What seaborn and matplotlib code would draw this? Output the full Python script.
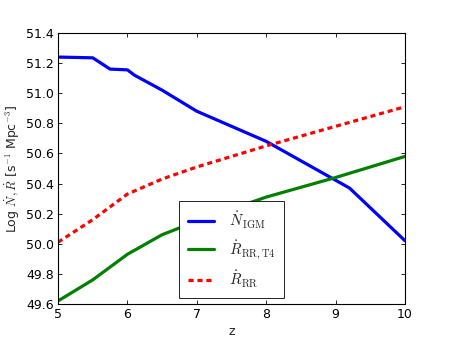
import matplotlib
matplotlib.use("Agg")
import matplotlib.pyplot as plt
import pandas as pd
import seaborn as sns

# N_IGM (blue)
z_igm = [5.0, 5.5, 5.75, 6.0, 6.1, 6.5, 7.0, 8.0, 9.2, 10.0]
n_igm = [51.24, 51.235, 51.16, 51.155, 51.12, 51.02, 50.88, 50.68, 50.37, 50.02]

# R_RR,T4 (green)
z_t4 = [5.0, 5.5, 6.0, 6.5, 7.0, 8.0, 9.0, 10.0]
r_t4 = [49.62, 49.76, 49.93, 50.06, 50.15, 50.31, 50.44, 50.58]

# R_RR (red dotted)
z_rr = [5.0, 5.5, 6.0, 6.5, 7.0, 8.0, 9.0, 10.0]
r_rr = [50.01, 50.16, 50.33, 50.43, 50.51, 50.65, 50.78, 50.91]

labels = [r"$\dot N_{\rm IGM}$", r"$\dot R_{\rm RR,T4}$", r"$\dot R_{\rm RR}$"]

df = pd.concat([
    pd.DataFrame({"z": z_igm, "val": n_igm, "series": labels[0]}),
    pd.DataFrame({"z": z_t4, "val": r_t4, "series": labels[1]}),
    pd.DataFrame({"z": z_rr, "val": r_rr, "series": labels[2]}),
])

sns.set_theme(style="ticks", rc={"xtick.direction": "in", "ytick.direction": "in"})
plt.rcParams["font.family"] = ["DejaVu Sans"]
plt.rcParams["mathtext.fontset"] = "cm"
plt.rcParams["axes.edgecolor"] = "black"
plt.rcParams["axes.linewidth"] = 0.8

fig = plt.figure(figsize=(4.5, 3.4), dpi=100)
ax = fig.add_axes([0.129, 0.106, 0.771, 0.797])

sns.lineplot(
    data=df, x="z", y="val", hue="series", style="series",
    palette=["#0000ff", "#008000", "#ff0000"],
    dashes=[(None, None), (None, None), (1.6, 1.2)],
    linewidth=2.3, sort=False, estimator=None, ax=ax,
)

ax.set_xlim(5, 10)
ax.set_ylim(49.6, 51.4)
ax.set_xticks([5, 6, 7, 8, 9, 10])
ax.set_yticks([49.6 + 0.2 * i for i in range(10)])
ax.set_yticklabels([f"{49.6 + 0.2 * i:.1f}" for i in range(10)])
ax.tick_params(top=True, right=True, labelsize=9, length=3, width=0.6, pad=3, colors="black")
ax.set_xlabel("z", fontsize=9, labelpad=3)
ax.set_ylabel(r"Log $\dot N,\dot R$ [s$^{-1}$ Mpc$^{-3}$]", fontsize=9, labelpad=3)

leg = ax.legend(loc="lower center", fontsize=10.8, handlelength=1.75, handletextpad=1.0,
                borderpad=0.55, fancybox=False, frameon=True, edgecolor="black",
                framealpha=1, borderaxespad=0.4)
leg.get_frame().set_linewidth(0.6)

fig.savefig("out.png", dpi=100)
